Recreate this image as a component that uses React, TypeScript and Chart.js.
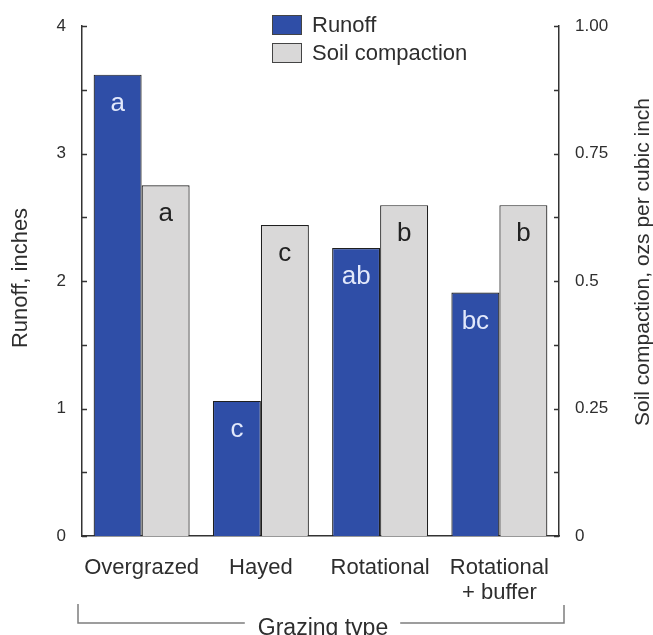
import React, { useEffect, useRef } from "react";
import { Chart, registerables } from "chart.js";

Chart.register(...registerables);

const categories: (string | string[])[] = ["Overgrazed", "Hayed", "Rotational", ["Rotational", "+ buffer"]];
const runoff = [3.62, 1.06, 2.26, 1.91];
const compaction = [0.688, 0.61, 0.649, 0.649];
const runoffLetters = ["a", "c", "ab", "bc"];
const compactionLetters = ["a", "c", "b", "b"];
const leftTickLabels = ["0", "1", "2", "3", "4"];
const rightTickLabels = ["0", "0.25", "0.5", "0.75", "1.00"];
const seriesNames = ["Runoff", "Soil compaction"];
const leftTitle = "Runoff, inches";
const rightTitle = "Soil compaction, ozs per cubic inch";
const xTitle = "Grazing type";

const FONT = "'Liberation Sans', Arial, Helvetica, sans-serif";
const BLUE = "#2f4ea7";
const GREY = "#d9d8d8";
const EDGE = "#1f1f1f";
const TEXT = "#2e2e2e";

const decorPlugin = {
  id: "decor",
  afterDatasetsDraw(chart: any) {
    const ctx = chart.ctx;
    const area = chart.chartArea;
    ctx.save();
    // letters inside bars
    const m0 = chart.getDatasetMeta(0);
    const m1 = chart.getDatasetMeta(1);
    ctx.font = `26px ${FONT}`;
    ctx.textAlign = "center";
    ctx.textBaseline = "alphabetic";
    m0.data.forEach((el: any, i: number) => {
      ctx.fillStyle = "#e2e8fb";
      ctx.fillText(runoffLetters[i], el.x, el.y + 36);
    });
    m1.data.forEach((el: any, i: number) => {
      ctx.fillStyle = "#222222";
      ctx.fillText(compactionLetters[i], el.x, el.y + 36);
    });

    // inner tick marks
    ctx.strokeStyle = "#333";
    ctx.lineWidth = 1.5;
    const yl = chart.scales.y;
    const yr = chart.scales.y1;
    yl.ticks.forEach((t: any) => {
      const py = Math.round(yl.getPixelForValue(t.value)) + 0.5;
      ctx.beginPath();
      ctx.moveTo(area.left, py);
      ctx.lineTo(area.left + 5, py);
      ctx.stroke();
    });
    yr.ticks.forEach((t: any) => {
      const py = Math.round(yr.getPixelForValue(t.value)) + 0.5;
      ctx.beginPath();
      ctx.moveTo(area.right, py);
      ctx.lineTo(area.right - 5, py);
      ctx.stroke();
    });

    // legend
    const lx = 272;
    const items = [
      { name: seriesNames[0], color: BLUE, y: 15 },
      { name: seriesNames[1], color: GREY, y: 43 },
    ];
    ctx.lineWidth = 1;
    items.forEach((it) => {
      ctx.fillStyle = it.color;
      ctx.fillRect(lx, it.y, 30, 20);
      ctx.strokeStyle = "#444";
      ctx.strokeRect(lx + 0.5, it.y + 0.5, 29, 19);
      ctx.fillStyle = TEXT;
      ctx.font = `22px ${FONT}`;
      ctx.textAlign = "left";
      ctx.textBaseline = "middle";
      ctx.fillText(it.name, lx + 40, it.y + 11);
    });

    // axis titles
    ctx.fillStyle = TEXT;
    ctx.textAlign = "center";
    ctx.textBaseline = "middle";
    ctx.save();
    ctx.translate(21, 278);
    ctx.rotate(-Math.PI / 2);
    ctx.font = `22px ${FONT}`;
    ctx.fillText(leftTitle, 0, 0);
    ctx.restore();
    ctx.save();
    ctx.translate(643, 262);
    ctx.rotate(-Math.PI / 2);
    ctx.font = `21px ${FONT}`;
    ctx.fillText(rightTitle, 0, 0);
    ctx.restore();

    // bracket with x title
    const bl = area.left - 4;
    const br = area.right + 5;
    const by = 623;
    const cx = (bl + br) / 2 + 2;
    ctx.font = `23px ${FONT}`;
    const tw = ctx.measureText(xTitle).width;
    ctx.strokeStyle = "#7d7d7d";
    ctx.lineWidth = 1.5;
    ctx.beginPath();
    ctx.moveTo(bl, 604);
    ctx.lineTo(bl, by);
    ctx.lineTo(cx - tw / 2 - 13, by);
    ctx.moveTo(cx + tw / 2 + 12, by);
    ctx.lineTo(br, by);
    ctx.lineTo(br, 605);
    ctx.stroke();
    ctx.fillStyle = TEXT;
    ctx.textAlign = "center";
    ctx.textBaseline = "alphabetic";
    ctx.fillText(xTitle, cx, 635);
    ctx.restore();
  },
};

export default function App() {
  const ref = useRef<HTMLCanvasElement | null>(null);
  useEffect(() => {
    if (!ref.current) return;
    const chart = new Chart(ref.current, {
      type: "bar",
      data: {
        labels: categories as any,
        datasets: [
          {
            label: seriesNames[0],
            data: runoff,
            backgroundColor: BLUE,
            borderColor: EDGE,
            borderWidth: 1.2,
            yAxisID: "y",
            categoryPercentage: 0.805,
            barPercentage: 1,
          },
          {
            label: seriesNames[1],
            data: compaction,
            backgroundColor: GREY,
            borderColor: EDGE,
            borderWidth: 1.2,
            yAxisID: "y1",
            categoryPercentage: 0.805,
            barPercentage: 1,
          },
        ],
      },
      options: {
        responsive: false,
        animation: false,
        layout: { padding: { top: 20, left: 0, right: 0, bottom: 0 } },
        plugins: { legend: { display: false }, tooltip: { enabled: false }, title: { display: false } },
        scales: {
          x: {
            grid: { display: false, drawTicks: false },
            border: { display: true, color: "#333", width: 1.5 },
            ticks: {
              color: TEXT,
              font: { family: FONT, size: 22, lineHeight: 1.15 },
              padding: 19,
              maxRotation: 0,
              autoSkip: false,
            },
            afterFit: (s: any) => {
              s.height = 99;
            },
          },
          y: {
            position: "left",
            min: 0,
            max: 4,
            grid: { display: false, drawTicks: false },
            border: { display: true, color: "#333", width: 1.5 },
            ticks: {
              stepSize: 0.5,
              color: TEXT,
              padding: 16,
              font: { family: FONT, size: 17 },
              autoSkip: false,
              callback: (v: any) => {
                const n = Number(v);
                return Number.isInteger(n) ? leftTickLabels[n] : "";
              },
            },
            afterFit: (s: any) => {
              s.width = 82;
            },
          },
          y1: {
            position: "right",
            min: 0,
            max: 1,
            grid: { display: false, drawTicks: false },
            border: { display: true, color: "#333", width: 1.5 },
            ticks: {
              stepSize: 0.125,
              color: TEXT,
              padding: 16,
              font: { family: FONT, size: 17 },
              autoSkip: false,
              callback: (v: any) => {
                const k = Number(v) / 0.25;
                return Number.isInteger(k) ? rightTickLabels[k] : "";
              },
            },
            afterFit: (s: any) => {
              s.width = 94;
            },
          },
        },
      },
      plugins: [decorPlugin],
    });
    return () => chart.destroy();
  }, []);
  return (
    <div style={{ position: "absolute", left: 0, top: 0, width: 653, height: 635, background: "#fff" }}>
      <canvas ref={ref} width={653} height={635} style={{ width: 653, height: 635, display: "block" }} />
    </div>
  );
}
